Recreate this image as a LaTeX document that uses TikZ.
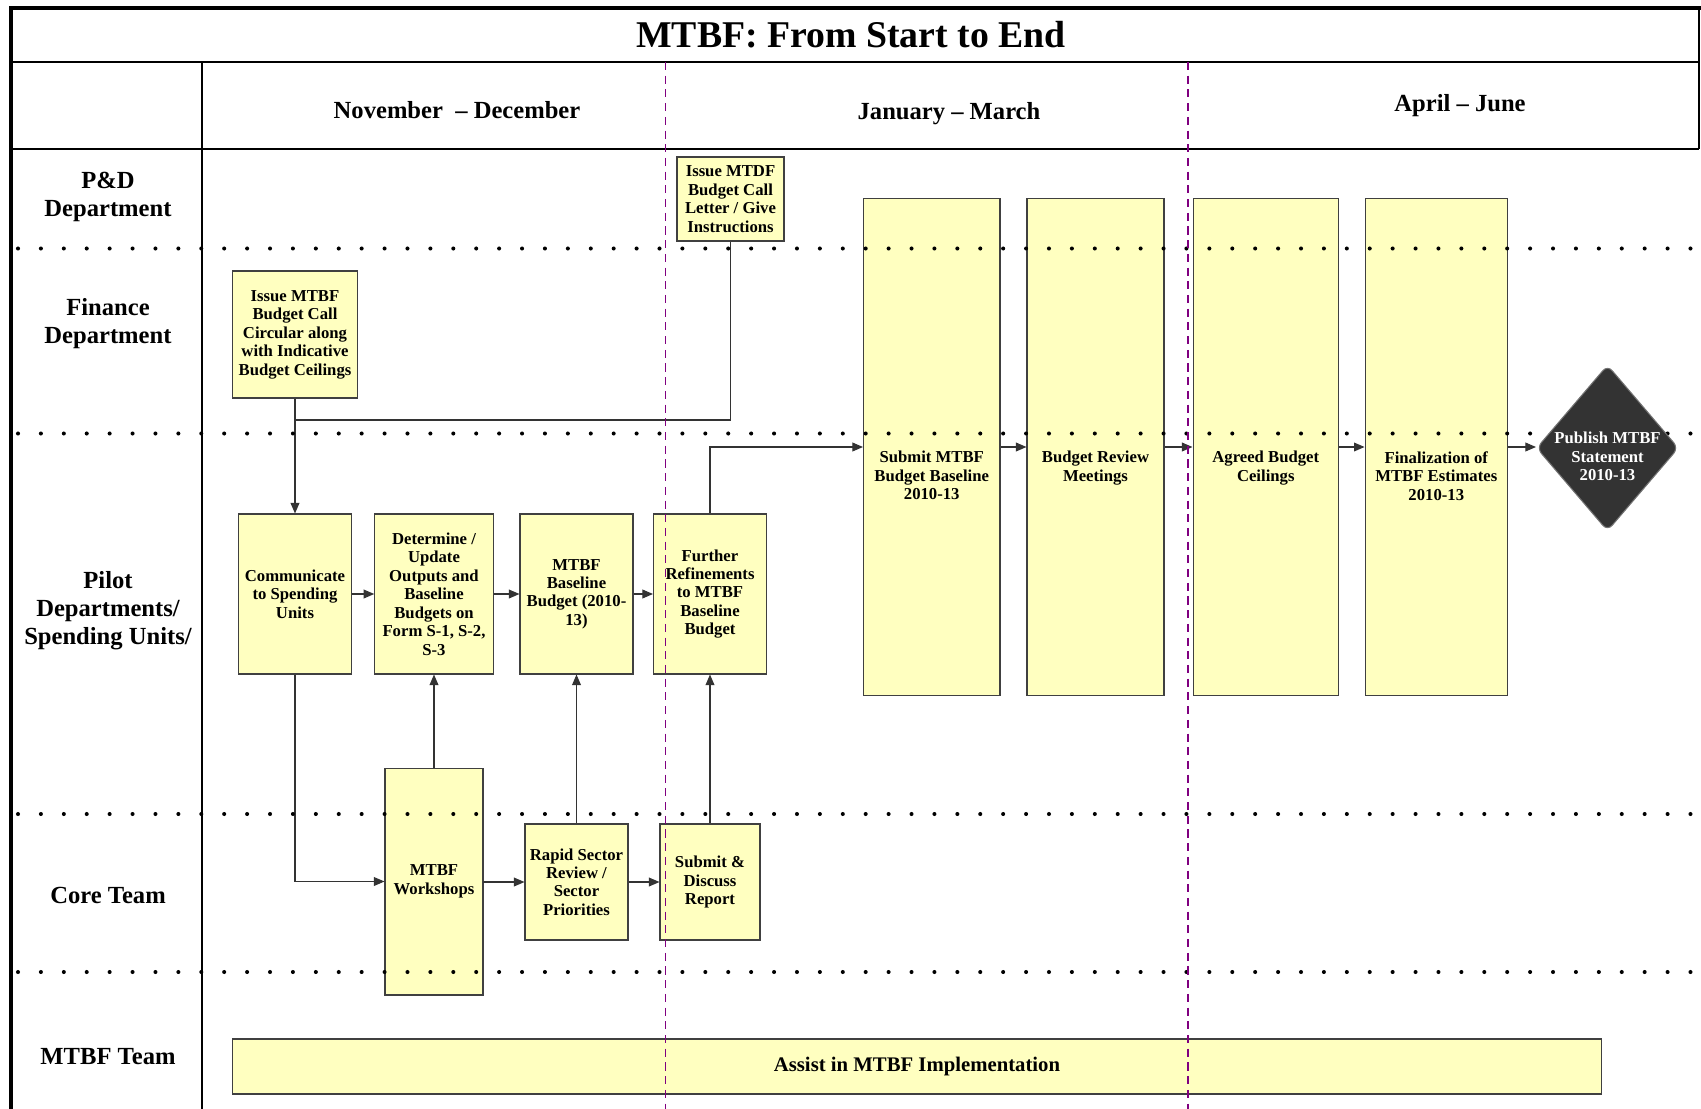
\documentclass[tikz,border=0pt]{standalone}
\usepackage{fontspec}
\setmainfont{Liberation Serif}
\usetikzlibrary{arrows.meta,shapes.geometric,shadows}

\definecolor{boxfill}{RGB}{255,255,192}
\definecolor{boxline}{RGB}{64,64,64}
\definecolor{lanepurple}{RGB}{128,0,128}
\definecolor{darkfill}{RGB}{51,51,51}

\begin{document}
\begin{tikzpicture}[x=0.02cm, y=-0.02cm,
        box/.style={draw=boxline, line width=0.6pt, fill=boxfill, inner sep=0pt, align=center,
            font=\fontsize{9.5}{10.5}\selectfont\bfseries,
            drop shadow={shadow xshift=0.2pt, shadow yshift=-0.7pt, fill=black, opacity=0.5}},
        boxtext/.style={inner sep=0pt, align=center, font=\fontsize{9.5}{10.5}\selectfont\bfseries},
        lane/.style={align=center, font=\fontsize{14}{16}\selectfont\bfseries},
        flow/.style={line width=0.6pt, black!80, -{Triangle[length=6pt, width=5pt]}},
        link/.style={line width=0.6pt, black!80},
        dots/.style={line width=2.3pt, line cap=round, dash pattern=on 0pt off 13.04pt},
        split/.style={line width=1pt, lanepurple, dash pattern=on 4.6pt off 3.2pt}]
        \useasboundingbox (0,0) rectangle (1701,1109);
        \draw[line width=2.3pt] (11,1109) -- (11,8) -- (1701,8);
        \draw[line width=1.1pt] (11,62) -- (1699,62);
        \draw[line width=1.1pt] (11,149) -- (1699,149);
        \draw[line width=1.1pt] (1699,8) -- (1699,149);
        \draw[line width=0.6pt] (202,62) -- (202,1109);
        \node[font=\fontsize{21.5}{25}\selectfont\bfseries] (title) at (851,35) {MTBF: From Start to End};
        \node[lane] (novdec) at (457,110) {November~ -- December};
        \node[lane] (janmar) at (949,113.3) {January -- March};
        \node[lane] (aprjun) at (1460,105.3) {April -- June};
        \node[lane] (pd) at (108,197.3) {P\&D\\Department};
        \node[lane] (finance) at (108,323.3) {Finance\\Department};
        \node[lane] (pilot) at (108,610.3) {Pilot\\Departments/\\Spending Units/};
        \node[lane] (core) at (108,895) {Core Team};
        \node[lane] (team) at (108,1056.2) {MTBF Team};
        \node[box, minimum width=2.14cm, minimum height=1.68cm] (mtdf) at (730.5,199) {Issue MTDF\\Budget Call\\Letter / Give\\Instructions};
        \node[box, minimum width=2.49cm, minimum height=2.54cm] (mtbf) at (295,334.5) {Issue MTBF\\Budget Call\\Circular along\\with Indicative\\Budget Ceilings};
        \node[box, minimum width=2.27cm, minimum height=3.2cm] (comm) at (295,594) {Communicate\\to Spending\\Units};
        \node[box, minimum width=2.37cm, minimum height=3.2cm] (determ) at (434,594) {Determine /\\Update\\Outputs and\\Baseline\\Budgets on\\Form S-1, S-2,\\S-3};
        \node[box, minimum width=2.26cm, minimum height=3.2cm] (base) at (576.5,594) {MTBF\\Baseline\\Budget (2010-\\13)};
        \node[box, minimum width=2.26cm, minimum height=3.2cm] (further) at (710,594) {Further\\Refinements\\to MTBF\\Baseline\\Budget};
        \node[box, minimum width=1.96cm, minimum height=4.54cm] (workshop) at (434,881.5) {MTBF\\Workshops};
        \node[box, minimum width=2.06cm, minimum height=2.32cm] (rapid) at (576.5,882) {Rapid Sector\\Review /\\Sector\\Priorities};
        \node[box, minimum width=2.0cm, minimum height=2.32cm] (discuss) at (710,882) {Submit \&\\Discuss\\Report};
        \node[box, minimum width=2.73cm, minimum height=9.93cm] (submit) at (931.75,447) {};
        \node[box, minimum width=2.74cm, minimum height=9.93cm] (review) at (1095.5,447) {};
        \node[box, minimum width=2.91cm, minimum height=9.93cm] (agreed) at (1265.75,447) {};
        \node[box, minimum width=2.85cm, minimum height=9.93cm] (final) at (1436.3,447) {};
        \node[boxtext, anchor=north] (submittext) at ([yshift=-0.08cm]submit.center) {Submit MTBF\\Budget Baseline\\2010-13};
        \node[boxtext, anchor=north] (reviewtext) at ([yshift=-0.08cm]review.center) {Budget Review\\Meetings};
        \node[boxtext, anchor=north] (agreedtext) at ([yshift=-0.08cm]agreed.center) {Agreed Budget\\Ceilings};
        \node[boxtext, anchor=north] (finaltext) at ([yshift=-0.08cm]final.center) {Finalization of\\MTBF Estimates\\2010-13};
        \node[box, font=\fontsize{11.8}{14}\selectfont\bfseries, minimum width=27.4cm, minimum height=1.1cm] (assist) at (917,1066.5) {Assist in MTBF Implementation};
        \coordinate (merge) at (295,420);
        \draw[flow] (mtbf.south) -- (comm.north);
        \draw[link] (mtdf.south) |- (merge);
        \draw[flow] (comm.east) -- (determ.west);
        \draw[flow] (determ.east) -- (base.west);
        \draw[flow] (base.east) -- (further.west);
        \draw[flow] (comm.south) |- (workshop.west);
        \draw[flow] (workshop.east) -- (rapid.west -| workshop.east) -- (rapid.west);
        \draw[flow] (rapid.east) -- (discuss.west);
        \draw[flow] (workshop.north) -- (determ.south);
        \draw[flow] (rapid.north) -- (base.south);
        \draw[flow] (discuss.north) -- (further.south);
        \draw[flow] (further.north) |- (submit.west);
        \draw[flow] (submit.east) -- (review.west);
        \draw[flow] (review.east) -- (agreed.west);
        \draw[flow] (agreed.east) -- (final.west);
        \foreach \y in {248.5,433.5,814,972}
            \draw[dots] (18,\y) -- (1701,\y);
        \node[diamond, draw=black!55, line width=0.6pt, fill=darkfill, rounded corners=4pt, inner sep=0pt,
            minimum width=2.84cm, minimum height=3.32cm] (publish) at (1607.5,448) {};
        \node[boxtext, text=white] (publishtext) at (1607.5,456.5) {Publish MTBF\\Statement\\2010-13};
        \draw[flow] (final.east) -- (final.east -| publish.west);
        \draw[split] (665.6,62) -- (665.6,1109);
        \draw[split] (1187.7,62) -- (1187.7,1109);
    \end{tikzpicture}
\end{document}
